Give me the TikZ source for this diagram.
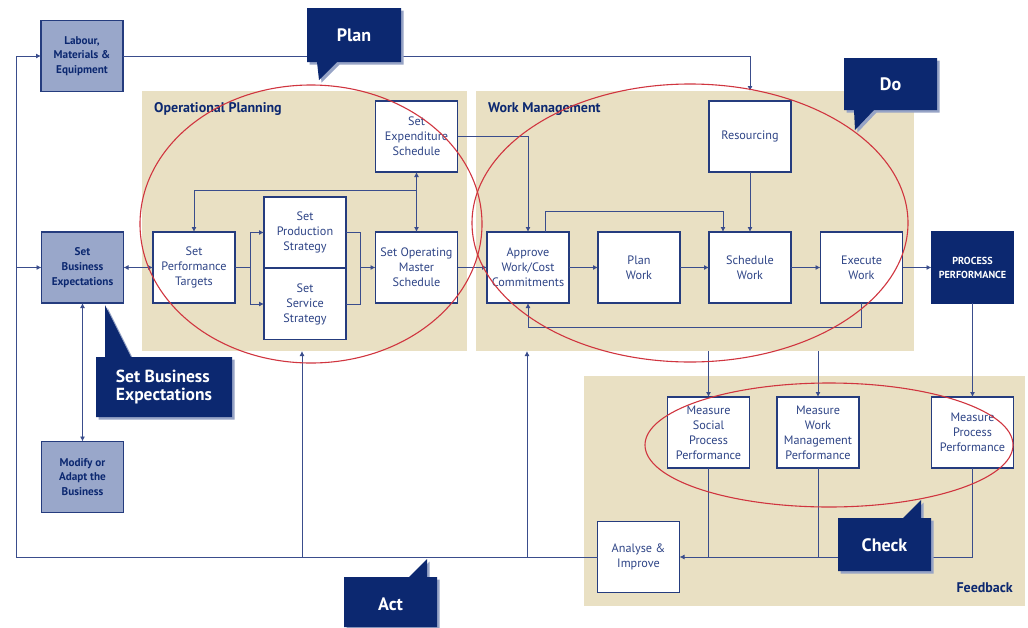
\documentclass[tikz,border=0pt]{standalone}
\usepackage{fontspec}
\setmainfont{PT Sans}
\usetikzlibrary{arrows.meta,shadows}
\definecolor{navy}{HTML}{0C2870}
\definecolor{ink}{HTML}{2E4486}
\definecolor{edge}{HTML}{253C7E}
\definecolor{wirec}{HTML}{3A4D8C}
\definecolor{sand}{HTML}{E9E0C3}
\definecolor{slate}{HTML}{99A7CA}
\definecolor{ring}{HTML}{D0353F}
\definecolor{shadowc}{HTML}{97A4C6}

\begin{document}
\begin{tikzpicture}[x=1pt,y=-1pt,
  panel/.style={fill=sand, draw=none, inner sep=0pt, outer sep=0pt},
  paneltitle/.style={text=navy, font=\bfseries\fontsize{14}{16}\selectfont, inner sep=0pt},
  box/.style={draw=edge, line width=1.1pt, fill=white, text=ink,
    minimum width=82pt, minimum height=71pt, inner sep=1pt, outer sep=0pt,
    align=center, font=\fontsize{12.2}{15}\selectfont},
  keybox/.style={box, fill=slate, text=navy, font=\bfseries\fontsize{11.2}{14.8}\selectfont},
  darkbox/.style={box, draw=navy, fill=navy, text=white, font=\bfseries\fontsize{10.2}{14}\selectfont},
  wire/.style={draw=wirec, line width=0.9pt},
  arr/.style={wire, -{Latex[length=5pt,width=5pt]}},
  arrtwo/.style={wire, {Latex[length=5pt,width=5pt]}-{Latex[length=5pt,width=5pt]}},
  ringline/.style={draw=ring, line width=1.1pt},
  callout/.style={fill=navy, drop shadow={shadow xshift=2.5pt, shadow yshift=-2.5pt, fill=shadowc, opacity=1}},
  callouttext/.style={text=white, font=\bfseries\fontsize{18}{20}\selectfont, inner sep=0pt, align=left}
]
\useasboundingbox[fill=white] (0,0) rectangle (1028,627);

% background panels
\node[panel, minimum width=325pt, minimum height=260pt] (op) at (304.5,221) {};
\node[panel, minimum width=438pt, minimum height=260pt] (wm) at (695,221) {};
\node[panel, minimum width=441pt, minimum height=230pt] (fb) at (804.5,491) {};
\node[paneltitle, anchor=west] (optitle) at (154,109) {Operational Planning};
\node[paneltitle, anchor=west] (wmtitle) at (488,109) {Work Management};
\node[paneltitle, anchor=east] (fbtitle) at (1013,588) {Feedback};

% business level
\node[keybox] (lab) at (82,56) {Labour,\\Materials \&\\Equipment};
\node[keybox] (sbe) at (82.5,267.5) {Set\\Business\\Expectations};
\node[keybox] (mod) at (82.5,477) {Modify or\\Adapt the\\Business};

% operational planning
\node[box] (spt) at (194,267.5) {Set\\Performance\\Targets};
\node[box] (sps) at (305,232.5) {Set\\Production\\Strategy};
\node[box] (sss) at (305,304) {Set\\Service\\Strategy};
\node[box] (soms) at (416.5,267.5) {Set Operating\\Master\\Schedule};
\node[box] (ses) at (416.5,136.5) {Set\\Expenditure\\Schedule};

% work management
\node[box] (app) at (528,267.5) {Approve\\Work/Cost\\Commitments};
\node[box] (pw) at (639,267.5) {Plan\\Work};
\node[box] (sw) at (750,267.5) {Schedule\\Work};
\node[box] (ew) at (861.5,267.5) {Execute\\Work};
\node[box] (res) at (750,136.5) {Resourcing};
\node[darkbox] (pp) at (972.5,267.5) {PROCESS\\PERFORMANCE};

% feedback
\node[box] (msp) at (708.5,432.5) {Measure\\Social\\Process\\Performance};
\node[box] (mwm) at (818,432.5) {Measure\\Work\\Management\\Performance};
\node[box] (mpp) at (972.5,432.5) {Measure\\Process\\Performance};
\node[box] (ai) at (638.5,557) {Analyse \&\\Improve};

% outer improvement loop
\coordinate (loopB) at (16,557);
\coordinate (loopT) at (16,56);
\coordinate (loopM) at (16,267.5);
\draw[wire] (ai.west) -- (loopB) -- (loopT);
\draw[arr] (loopT) -- (lab.west);
\draw[arr] (loopM) -- (sbe.west);
\coordinate (actL) at (302,557);
\coordinate (actR) at (527,557);
\draw[arr] (actL) -- (actL |- op.south);
\draw[arr] (actR) -- (actR |- wm.south);

% resources feed
\coordinate (labR) at (750,56);
\draw[arr] (lab.east) -- (labR) -- (labR |- wm.north);

\draw[arrtwo] (sbe.east) -- (spt.west);
\draw[arrtwo] (sbe.south) -- (mod.north);

% strategy split and join
\coordinate (split) at (250,267.5);
\draw[wire] (spt.east) -- (split);
\draw[wire] (split |- sps.west) -- (split |- sss.west);
\draw[arr] (split |- sps.west) -- (sps.west);
\draw[arr] (split |- sss.west) -- (sss.west);
\coordinate (join) at (360,267.5);
\draw[wire] (sps.east) -- (join |- sps.east) -- (join |- sss.east) -- (sss.east);
\draw[arr] (join) -- (soms.west);

% master schedule and expenditure
\draw[arrtwo] (soms.north) -- (ses.south);
\coordinate (tgt) at (416.5,190);
\draw[arr] (tgt) -- (tgt -| spt.north) -- (spt.north);
\draw[arr] (ses.east) -- (ses.east -| app.north) -- (app.north);
\draw[arr] (soms.east) -- (app.west);

% work flow
\draw[arr] (app.east) -- (pw.west);
\draw[arr] (pw.east) -- (sw.west);
\draw[arr] (sw.east) -- (ew.west);
\draw[arr] (ew.east) -- (pp.west);
\coordinate (rwA) at (545,211);
\coordinate (rwB) at (723,211);
\draw[arr] (rwA |- app.north) -- (rwA) -- (rwB) -- (rwB |- sw.north);
\draw[arr] (res.south) -- (sw.north);
\coordinate (ret) at (861.5,327);
\draw[arr] (ew.south) -- (ret) -- (ret -| app.south) -- (app.south);

% measurement
\draw[arr] (msp.north |- wm.south) -- (msp.north);
\draw[arr] (mwm.north |- wm.south) -- (mwm.north);
\draw[arr] (pp.south) -- (mpp.north);
\draw[wire] (msp.south) -- (msp.south |- ai.east);
\draw[wire] (mwm.south) -- (mwm.south |- ai.east);
\draw[arr] (mpp.south) -- (mpp.south |- ai.east) -- (ai.east);

% PDCA rings
\draw[ringline] (311,224) ellipse [x radius=171pt, y radius=139pt];
\draw[ringline] (690,223) ellipse [x radius=218pt, y radius=139pt];
\draw[ringline] (829,445) ellipse [x radius=184pt, y radius=62pt];

% callouts
\path[callout] (307,8) -- (401,8) -- (401,62) -- (337,62) -- (319,80) -- (317,62) -- (307,62) -- cycle;
\node[callouttext] (plan) at (354,35) {Plan};
\path[callout] (844,58) -- (937,58) -- (937,110) -- (874,110) -- (855,130) -- (854,110) -- (844,110) -- cycle;
\node[callouttext] (do) at (890.5,84) {Do};
\path[callout] (838,518) -- (903,518) -- (921,500) -- (921,518) -- (931,518) -- (931,571) -- (838,571) -- cycle;
\node[callouttext] (check) at (884.5,545) {Check};
\path[callout] (344,577) -- (409,577) -- (427,559) -- (427,577) -- (437,577) -- (437,627) -- (344,627) -- cycle;
\node[callouttext] (act) at (390.5,604) {Act};
\path[callout] (96,357) -- (105,357) -- (105,305) -- (131,357) -- (232,357) -- (232,417) -- (96,417) -- cycle;
\node[callouttext, font=\bfseries\fontsize{17.5}{18.5}\selectfont] (sbecall) at (164,387) {Set Business\\Expectations};
\end{tikzpicture}
\end{document}
